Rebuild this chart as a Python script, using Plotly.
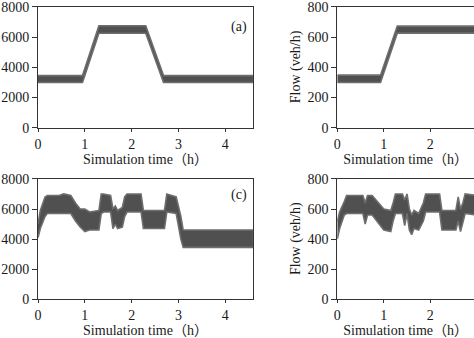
import plotly.graph_objects as go

# ---- data (envelopes of the noisy simulated flow bands) ----
# Panel (a): y-axis 0-8000
t_a = [0, 0.95, 1.3, 2.3, 2.68, 4.6]
up_a = [3450, 3450, 6750, 6750, 3450, 3450]
lo_a = [3000, 3000, 6250, 6250, 3000, 3000]

# Panel (b): y-axis 0-800
t_b = [0, 0.93, 1.29, 4.6]
up_b = [348, 348, 672, 672]
lo_b = [300, 300, 626, 626]

# Panel (c): y-axis 0-8000
t_c = [0, 0.05, 0.15, 0.2, 0.45, 0.55, 0.7, 0.8, 0.9, 1.0, 1.1, 1.3, 1.35, 1.4,
       1.55, 1.6, 1.65, 1.7, 1.8, 1.85, 1.9, 2.2, 2.25, 2.7, 2.75, 2.95, 3.05, 3.1, 4.6]
up_c = [5000, 5900, 6800, 6900, 6900, 7000, 6900, 6400, 6000, 6000, 5800, 5900, 7000, 7000,
        6900, 6000, 6200, 5900, 6100, 6800, 7000, 7000, 5900, 5900, 7000, 6800, 5500, 4600, 4600]
lo_c = [4100, 4700, 5500, 5700, 5700, 5700, 5700, 5200, 4800, 4500, 4600, 4600, 5700, 5800,
        5800, 4700, 5000, 4700, 4800, 5500, 5800, 5800, 4700, 4700, 5800, 5700, 4000, 3450, 3450]

# Panel (d): y-axis 0-800
t_d = [0, 0.05, 0.15, 0.2, 0.55, 0.6, 0.65, 0.75, 1.0, 1.15, 1.2, 1.25, 1.4, 1.45, 1.5,
       1.55, 1.6, 1.65, 1.75, 1.85, 1.9, 2.2, 2.25, 2.55, 2.6, 2.65, 2.7, 2.75, 3.0, 4.6]
up_d = [520, 580, 650, 690, 690, 640, 690, 690, 600, 590, 640, 700, 700, 660, 700,
        600, 560, 590, 570, 640, 700, 700, 590, 590, 680, 600, 640, 700, 690, 690]
lo_d = [400, 470, 560, 570, 570, 500, 560, 560, 460, 450, 520, 570, 570, 490, 570,
        460, 430, 470, 460, 520, 580, 580, 460, 460, 520, 450, 500, 570, 560, 560]

x_ticks = [0, 1, 2, 3, 4]
panel_labels = ["(a)", "(c)"]
x_title_full = "Simulation time（h）"
y_title = "Flow (veh/h)"

BAND = "#505050"
EDGE = "#6e6e6e"
TXT = "#1a1a1a"
FONT = "'Liberation Serif', 'Noto Sans CJK SC', serif"

W, H = 474, 338
fig = go.Figure()


def band(t, up, lo, xa, ya):
    fig.add_trace(go.Scatter(
        x=list(t) + list(reversed(t)),
        y=list(up) + list(reversed(lo)),
        fill="toself", fillcolor=BAND, mode="lines",
        line=dict(color=EDGE, width=1.6),
        xaxis=xa, yaxis=ya, showlegend=False, hoverinfo="skip"))


band(t_a, up_a, lo_a, "x", "y")
band(t_b, up_b, lo_b, "x2", "y2")
band(t_c, up_c, lo_c, "x3", "y3")
band(t_d, up_d, lo_d, "x4", "y4")

# pixel geometry -> paper domains
L_x0, L_x1 = 38 / W, 253 / W
R_x0, R_x1 = 337.3 / W, 1.0
T_y0, T_y1 = (H - 127.8) / H, (H - 6.8) / H
B_y0, B_y1 = (H - 299.3) / H, (H - 178.9) / H

axcommon = dict(showgrid=False, zeroline=False, showline=True, linecolor="#333",
                linewidth=1, ticks="outside", tickcolor="#333", tickwidth=1,
                ticklabeloverflow="allow",
                tickfont=dict(size=14, color=TXT, family=FONT))

xl_range = [0, 4.59]
xr_range = [0, 2.94]


def xax(domain, rng, anchor, title, mirror):
    return dict(axcommon, domain=domain, range=rng, anchor=anchor, tickvals=x_ticks,
                ticklen=3, mirror=mirror,
                title=dict(text=title, font=dict(size=14, color=TXT, family=FONT), standoff=2))


def yax(domain, rng, dtick, anchor, mirror):
    return dict(axcommon, domain=domain, range=rng, dtick=dtick, anchor=anchor,
                ticklen=5, mirror=mirror)


def ytitle(xpix, ycen):
    return dict(text=y_title, xref="paper", yref="paper", x=xpix / W, y=ycen,
                textangle=-90, showarrow=False, xanchor="center", yanchor="middle",
                font=dict(size=14, color=TXT, family=FONT))


fig.update_layout(
    width=W, height=H, autosize=False,
    margin=dict(l=0, r=0, t=0, b=0, autoexpand=False),
    paper_bgcolor="white", plot_bgcolor="white",
    font=dict(family=FONT, size=14, color=TXT),
    xaxis=xax([L_x0, L_x1], xl_range, "y", x_title_full, True),
    yaxis=yax([T_y0, T_y1], [0, 8000], 2000, "x", True),
    xaxis2=xax([R_x0, R_x1], xr_range, "y2", x_title_full, True),
    yaxis2=yax([T_y0, T_y1], [0, 800], 200, "x2", False),
    xaxis3=xax([L_x0, L_x1], xl_range, "y3", x_title_full, True),
    yaxis3=yax([B_y0, B_y1], [0, 8000], 2000, "x3", True),
    xaxis4=xax([R_x0, R_x1], xr_range, "y4", x_title_full, True),
    yaxis4=yax([B_y0, B_y1], [0, 800], 200, "x4", False),
    annotations=[
        dict(text=panel_labels[0], xref="x domain", yref="y domain", x=0.935, y=0.83,
             showarrow=False, xanchor="center", yanchor="middle",
             font=dict(size=14, color=TXT, family=FONT)),
        dict(text=panel_labels[1], xref="x3 domain", yref="y3 domain", x=0.935, y=0.87,
             showarrow=False, xanchor="center", yanchor="middle",
             font=dict(size=14, color=TXT, family=FONT)),
        ytitle(296, (T_y0 + T_y1) / 2),
        ytitle(296, (B_y0 + B_y1) / 2),
    ],
)

fig.write_html("out.html")
